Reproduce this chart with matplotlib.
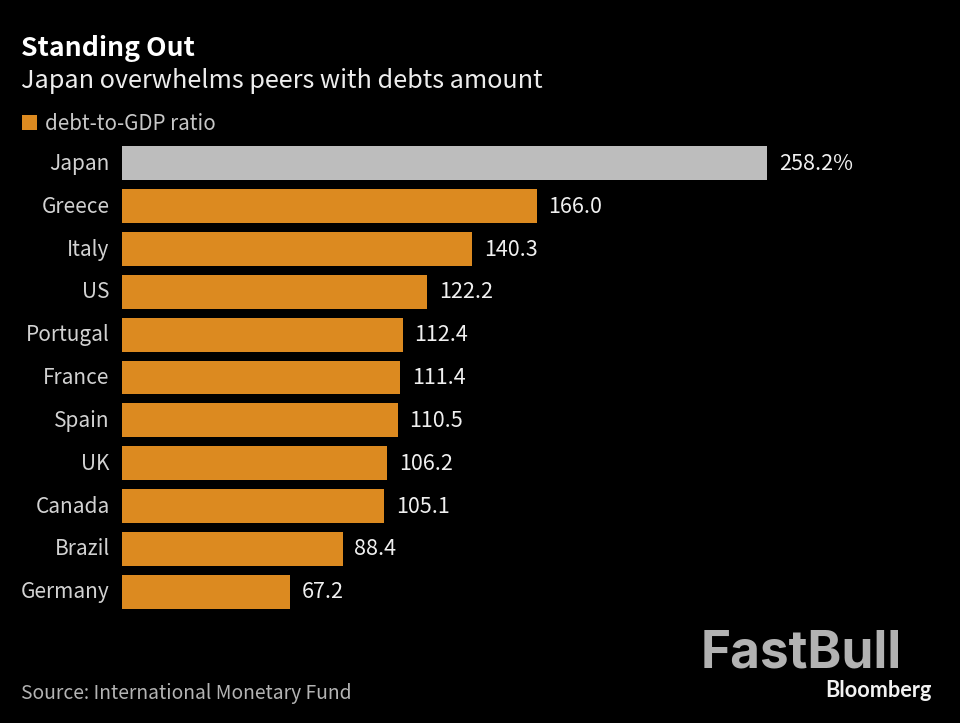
import matplotlib
matplotlib.use("Agg")
import matplotlib.pyplot as plt
from matplotlib.transforms import ScaledTranslation

countries = ["Japan", "Greece", "Italy", "US", "Portugal", "France", "Spain", "UK", "Canada", "Brazil", "Germany"]
ratios = [258.2, 166.0, 140.3, 122.2, 112.4, 111.4, 110.5, 106.2, 105.1, 88.4, 67.2]
value_labels = ["258.2%", "166.0", "140.3", "122.2", "112.4", "111.4", "110.5", "106.2", "105.1", "88.4", "67.2"]

ORANGE = "#dc8a20"
GREY = "#bdbdbd"
W, H = 960, 723

plt.rcParams['font.family'] = ['Noto Sans CJK JP', 'DejaVu Sans']

fig = plt.figure(figsize=(W / 100, H / 100), dpi=100, facecolor="black")

# axes placed in pixels: 2.5 px per unit, 42.8 px per row
left, top, bottom = 121.5, 142, 613
ax = fig.add_axes([left / W, 1 - bottom / H, (W - left) / W, (bottom - top) / H], facecolor="black")
ax.set_xlim(0, (W - left) / 2.5)
ax.set_ylim(len(countries) - 0.5, -0.5)

colors = [GREY] + [ORANGE] * (len(countries) - 1)
ax.barh(countries, ratios, height=0.79, color=colors)

for i, (val, lab) in enumerate(zip(ratios, value_labels)):
    ax.annotate(lab, (val, i), xytext=(8.5, 1.4), textcoords="offset points", color="#f0f0f0",
                fontsize=15.5, va="center_baseline", ha="left")

ax.tick_params(axis="y", length=0, pad=8.5, labelcolor="#d2d2d2", labelsize=15)
# tick labels sit a little high in the original
shift = ScaledTranslation(0, 1.4 / 72, fig.dpi_scale_trans)
for t in ax.get_yticklabels():
    t.set_transform(t.get_transform() + shift)
ax.xaxis.set_visible(False)
for s in ax.spines.values():
    s.set_visible(False)


def px_text(x, y, s, **kw):
    return fig.text(x / W, 1 - y / H, s, va="baseline", **kw)


px_text(21, 56.5, "Standing Out", color="white", fontsize=19.2, fontweight="bold")
px_text(21, 87.5, "Japan overwhelms peers with debts amount", color="#ededed", fontsize=18.15)

fig.patches.append(plt.Rectangle((22 / W, 1 - 130 / H), 15 / W, 15 / H, transform=fig.transFigure,
                                 facecolor=ORANGE, edgecolor="none"))
px_text(45, 130, "debt-to-GDP ratio", color="#c8c8c8", fontsize=14.8)

px_text(21, 699.5, "Source: International Monetary Fund", color="#b4b4b4", fontsize=13.9)

px_text(701, 667, "FastBull", color="#b2b2b2", fontsize=37, fontweight="bold", family=["Inter", "DejaVu Sans"])
px_text(825, 697, "Bloomberg", color="#f2f2f2", fontsize=15.6, fontweight="bold", family=["Lato", "DejaVu Sans"])

fig.savefig("out.png", dpi=100, facecolor=fig.get_facecolor())
